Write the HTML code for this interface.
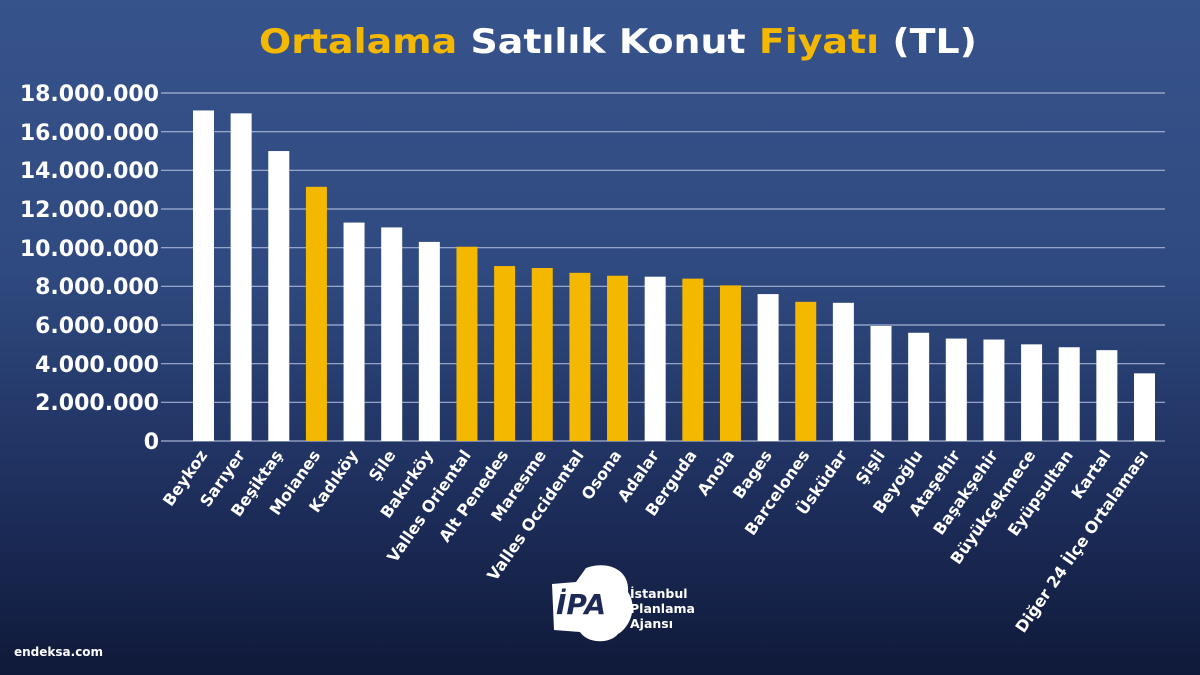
<!DOCTYPE html>
<html><head><meta charset="utf-8"><style>
html,body{margin:0;padding:0;width:1200px;height:675px;overflow:hidden}
body{background:linear-gradient(180deg,#37538b 0%,#2f4a80 40%,#1d2d5a 75%,#0f1939 100%)}
svg{display:block}
text{font-family:"DejaVu Sans","Liberation Sans",sans-serif;font-weight:bold}
</style></head><body>
<svg width="1200" height="675" viewBox="0 0 1200 675">
<text x="618" y="53" text-anchor="middle" font-size="34" fill="#fff" textLength="718" lengthAdjust="spacingAndGlyphs"><tspan fill="#f5b800">Ortalama</tspan> Satılık Konut <tspan fill="#f5b800">Fiyatı</tspan> (TL)</text>
<g stroke="#b9c6e6" stroke-width="1.2" opacity="0.85">
<line x1="161" x2="1165" y1="93" y2="93"/><line x1="161" x2="1165" y1="131.7" y2="131.7"/><line x1="161" x2="1165" y1="170.3" y2="170.3"/><line x1="161" x2="1165" y1="209" y2="209"/><line x1="161" x2="1165" y1="247.7" y2="247.7"/><line x1="161" x2="1165" y1="286.3" y2="286.3"/><line x1="161" x2="1165" y1="325" y2="325"/><line x1="161" x2="1165" y1="363.7" y2="363.7"/><line x1="161" x2="1165" y1="402.3" y2="402.3"/><line x1="161" x2="1165" y1="441" y2="441"/>
</g>
<g font-size="22" fill="#fff" text-anchor="end">
<text x="159" y="101">18.000.000</text><text x="159" y="140">16.000.000</text><text x="159" y="178">14.000.000</text><text x="159" y="217">12.000.000</text><text x="159" y="256">10.000.000</text><text x="159" y="294">8.000.000</text><text x="159" y="333">6.000.000</text><text x="159" y="372">4.000.000</text><text x="159" y="410">2.000.000</text><text x="159" y="449">0</text>
</g>
<g id="bars"></g>
<g id="labels" font-size="16" fill="#fff" text-anchor="end"></g>
<g transform="translate(548,562)">
<path d="M38 6 C60 -2 82 8 80 30 C90 45 82 65 70 72 C62 82 40 82 32 70 L6 68 L4 22 L28 20 Z" fill="#fff"/>
<text x="8" y="52" font-size="28" fill="#1c2a55" font-style="italic">İPA</text>
</g>
<g font-size="12.5" fill="#fff"><text x="630" y="598">İstanbul</text><text x="630" y="613">Planlama</text><text x="630" y="628">Ajansı</text></g>
<text x="14" y="656" font-size="12" fill="#fff" font-weight="normal">endeksa.com</text>
</svg>
<script>
var d=[["Beykoz",17.1,0],["Sarıyer",16.95,0],["Beşiktaş",15.0,0],["Moianes",13.15,1],["Kadıköy",11.3,0],["Şile",11.05,0],["Bakırköy",10.3,0],["Valles Oriental",10.05,1],["Alt Penedes",9.05,1],["Maresme",8.95,1],["Valles Occidental",8.7,1],["Osona",8.55,1],["Adalar",8.5,0],["Berguda",8.4,1],["Anoia",8.05,1],["Bages",7.6,0],["Barcelones",7.2,1],["Üsküdar",7.15,0],["Şişli",5.95,0],["Beyoğlu",5.6,0],["Ataşehir",5.3,0],["Başakşehir",5.25,0],["Büyükçekmece",5.0,0],["Eyüpsultan",4.85,0],["Kartal",4.7,0],["Diğer 24 İlçe Ortalaması",3.5,0]];
var ns="http://www.w3.org/2000/svg",b=document.getElementById("bars"),l=document.getElementById("labels");
d.forEach(function(e,i){var x=193+i*37.64,h=e[1]*19.33,r=document.createElementNS(ns,"rect");
r.setAttribute("x",x);r.setAttribute("y",441-h);r.setAttribute("width",21);r.setAttribute("height",h);r.setAttribute("fill",e[2]?"#f5b800":"#fff");b.appendChild(r);
var t=document.createElementNS(ns,"text");var cx=x+15,cy=455;t.setAttribute("x",cx);t.setAttribute("y",cy);t.setAttribute("transform","rotate(-55 "+cx+" "+cy+")");t.textContent=e[0];l.appendChild(t);});
</script>
</body></html>
